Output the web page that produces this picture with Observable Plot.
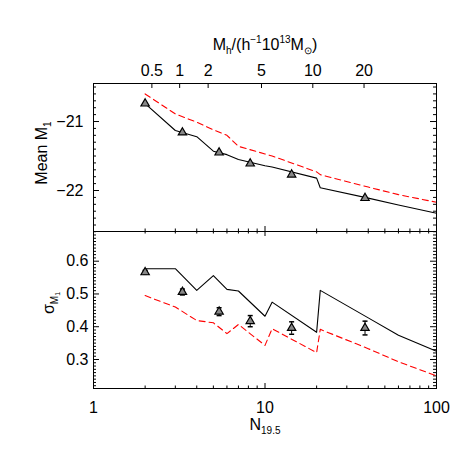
<!DOCTYPE html>
<html><head><meta charset="utf-8">
<script src="https://cdn.jsdelivr.net/npm/d3@7"></script>
<script src="https://cdn.jsdelivr.net/npm/@observablehq/plot@0.6"></script>
<style>
html,body{margin:0;padding:0;background:#fff;}
#chart{position:relative;width:463px;height:463px;font-family:"Liberation Sans",Arial,Helvetica,sans-serif;}
#chart svg{position:absolute;left:0;}
</style></head><body><div id="chart"></div>
<script>
// ---------- data ----------
const nGrid      = [2, 3, 4, 5, 6, 7, 10, 11, 20, 21, 40, 60, 100];
const meanBlack  = [-20.74, -21.13, -21.22, -21.43, -21.48, -21.55, -21.64, -21.66, -21.82, -21.96, -22.11, -22.21, -22.33];
const meanRed    = [-20.60, -20.89, -21.01, -21.12, -21.20, -21.36, -21.47, -21.50, -21.73, -21.77, -21.95, -22.06, -22.17];
const sigmaBlack = [0.577, 0.577, 0.511, 0.556, 0.514, 0.509, 0.432, 0.475, 0.383, 0.511, 0.427, 0.374, 0.325];
const sigmaRed   = [0.495, 0.460, 0.419, 0.412, 0.379, 0.407, 0.343, 0.394, 0.321, 0.392, 0.333, 0.293, 0.250];

const ptN        = [2.0, 3.3, 5.4, 8.2, 14.3, 38.3];
const ptMean     = [-20.74, -21.16, -21.45, -21.61, -21.77, -22.11];
const ptMeanErr  = [0.015, 0.015, 0.015, 0.015, 0.015, 0.015];
const ptSigma    = [0.566, 0.506, 0.446, 0.417, 0.396, 0.396];
const ptSigmaErr = [0.006, 0.009, 0.012, 0.017, 0.019, 0.021];

const xMajor = [1, 10, 100];
const xMinor = [2,3,4,5,6,7,8,9,20,30,40,50,60,70,80,90];
const meanTicks = [-22, -21];
const sigmaTicks = [0.3, 0.4, 0.5, 0.6];
const mhTickLabels = ["0.5", "1", "2", "5", "10", "20"];
const mhTickN      = [2.19, 3.18, 4.66, 9.54, 19.0, 37.8];

// ---------- tables ----------
const model = nGrid.map((n, i) => ({n, mB: meanBlack[i], mR: meanRed[i], sB: sigmaBlack[i], sR: sigmaRed[i]}));
const pts = ptN.map((n, i) => ({n, m: ptMean[i], me: ptMeanErr[i], s: ptSigma[i], se: ptSigmaErr[i]}));

// minor y ticks
const meanMinor = d3.range(-225, -204).map(v => v / 10).filter(v => !Number.isInteger(v));
const sigmaMinor = d3.range(22, 70).map(v => v / 100).filter(v => Math.round(v * 100) % 10 !== 0);

// ---------- layout ----------
const FONT = "Liberation Sans, Arial, Helvetica, sans-serif";
const W = 463, ML = 93, MR = 27, innerW = W - ML - MR;
const topY0 = 83, split = 231, botY1 = 388;
const topH = split - topY0, botH = botY1 - split;
const minus = d => String(d).replace("-", "\u2212");
const capSymbol = {draw(ctx) { ctx.moveTo(-2.5, 0); ctx.lineTo(2.5, 0); }};

function xTicks(innerH, top, bottom) {
  const m = [];
  if (bottom) {
    m.push(Plot.ruleX(xMajor, {x: d => d, insetTop: innerH - 5, stroke: "black"}));
    m.push(Plot.ruleX(xMinor, {x: d => d, insetTop: innerH - 2.5, stroke: "black"}));
  }
  if (top) {
    m.push(Plot.ruleX(xMajor, {x: d => d, insetBottom: innerH - 5, stroke: "black"}));
    m.push(Plot.ruleX(xMinor, {x: d => d, insetBottom: innerH - 2.5, stroke: "black"}));
  }
  return m;
}
function yTicks(major, minor) {
  return [
    Plot.ruleY(major, {y: d => d, insetRight: innerW - 6, stroke: "black"}),
    Plot.ruleY(minor, {y: d => d, insetRight: innerW - 3, stroke: "black"}),
    Plot.ruleY(major, {y: d => d, insetLeft: innerW - 6, stroke: "black"}),
    Plot.ruleY(minor, {y: d => d, insetLeft: innerW - 3, stroke: "black"})
  ];
}
const style = {fontFamily: FONT, fontSize: "16px", background: "transparent", overflow: "visible", color: "black"};

const topPlot = Plot.plot({
  width: W, height: split, marginTop: topY0, marginBottom: 0, marginLeft: ML, marginRight: MR,
  x: {type: "log", domain: [1, 100], axis: null},
  y: {domain: [-22.594, -20.449], axis: null},
  style,
  marks: [
    ...xTicks(topH, false, true),
    Plot.ruleX(mhTickN, {x: d => d, insetBottom: topH - 5, stroke: "black"}),
    ...yTicks(meanTicks, meanMinor),
    Plot.text(meanTicks, {y: d => d, text: d => minus(d), frameAnchor: "left", dx: -10, textAnchor: "end", lineAnchor: "middle", fill: "black"}),
    Plot.text(mhTickN, {x: d => d, text: (d, i) => mhTickLabels[i], frameAnchor: "top", dy: -13, lineAnchor: "middle", fill: "black"}),
    Plot.line(model, {x: "n", y: "mR", stroke: "red", strokeWidth: 1.1, strokeDasharray: "6,4"}),
    Plot.line(model, {x: "n", y: "mB", stroke: "black", strokeWidth: 1.1}),
    Plot.ruleX(pts, {x: "n", y1: d => d.m - d.me, y2: d => d.m + d.me, stroke: "black"}),
    Plot.dot(pts, {x: "n", y: "m", symbol: "triangle", r: 3.1, stroke: "black", strokeWidth: 1.2, fill: "#888"}),
    Plot.frame({stroke: "black"})
  ]
});

const botPlot = Plot.plot({
  width: W, height: W - split, marginTop: 0, marginBottom: W - botY1, marginLeft: ML, marginRight: MR,
  x: {type: "log", domain: [1, 100], axis: null},
  y: {domain: [0.2115, 0.6906], axis: null},
  style,
  marks: [
    ...xTicks(botH, true, true),
    ...yTicks(sigmaTicks, sigmaMinor),
    Plot.text(sigmaTicks, {y: d => d, text: d => d.toFixed(1), frameAnchor: "left", dx: -5, textAnchor: "end", lineAnchor: "middle", fill: "black"}),
    Plot.text(xMajor, {x: d => d, text: d => String(d), frameAnchor: "bottom", dy: 19, lineAnchor: "middle", fill: "black"}),
    Plot.line(model, {x: "n", y: "sR", stroke: "red", strokeWidth: 1.1, strokeDasharray: "6,4"}),
    Plot.line(model, {x: "n", y: "sB", stroke: "black", strokeWidth: 1.1}),
    Plot.ruleX(pts, {x: "n", y1: d => d.s - d.se, y2: d => d.s + d.se, stroke: "black"}),
    Plot.dot(pts, {x: "n", y: d => d.s - d.se, symbol: capSymbol, r: 3, stroke: "black"}),
    Plot.dot(pts, {x: "n", y: d => d.s + d.se, symbol: capSymbol, r: 3, stroke: "black"}),
    Plot.dot(pts, {x: "n", y: "s", symbol: "triangle", r: 3.1, stroke: "black", strokeWidth: 1.2, fill: "#888"}),
    Plot.frame({stroke: "black"})
  ]
});

const chart = document.getElementById("chart");
topPlot.style.top = "0px";
botPlot.style.top = split + "px";
chart.appendChild(topPlot);
chart.appendChild(botPlot);

// ---------- titles (with sub/superscripts) ----------
const ov = d3.select(chart).append("svg")
  .attr("width", W).attr("height", W)
  .style("top", "0px").style("pointer-events", "none")
  .attr("font-family", FONT).attr("font-size", 16).attr("fill", "black");

// left title top panel
const t1 = ov.append("text").attr("transform", "translate(47,153) rotate(-90)").attr("text-anchor", "middle");
t1.append("tspan").text("Mean M");
t1.append("tspan").attr("font-size", 10).attr("dy", 4).text("1");

// left title bottom panel
const t2 = ov.append("text").attr("transform", "translate(54,303) rotate(-90)").attr("text-anchor", "middle");
t2.append("tspan").text("\u03c3");
t2.append("tspan").attr("font-size", 10).attr("dy", 4).text("M");
t2.append("tspan").attr("font-size", 7).attr("dy", 2).text("1");

// bottom title
const t3 = ov.append("text").attr("x", 265).attr("y", 430).attr("text-anchor", "middle");
t3.append("tspan").text("N");
t3.append("tspan").attr("font-size", 10).attr("dy", 4).text("19.5");

// top title
const t4 = ov.append("text").attr("x", 265).attr("y", 50).attr("text-anchor", "middle");
t4.append("tspan").text("M");
t4.append("tspan").attr("font-size", 10).attr("dy", 4).text("h");
t4.append("tspan").attr("dy", -4).text("/(h");
t4.append("tspan").attr("font-size", 10).attr("dy", -7).text("\u22121");
t4.append("tspan").attr("dy", 7).text("10");
t4.append("tspan").attr("font-size", 10).attr("dy", -7).text("13");
t4.append("tspan").attr("dy", 7).text("M");
t4.append("tspan").attr("font-size", 10).attr("dy", 4).text("\u2299");
t4.append("tspan").attr("dy", -4).text(")");
</script></body></html>
